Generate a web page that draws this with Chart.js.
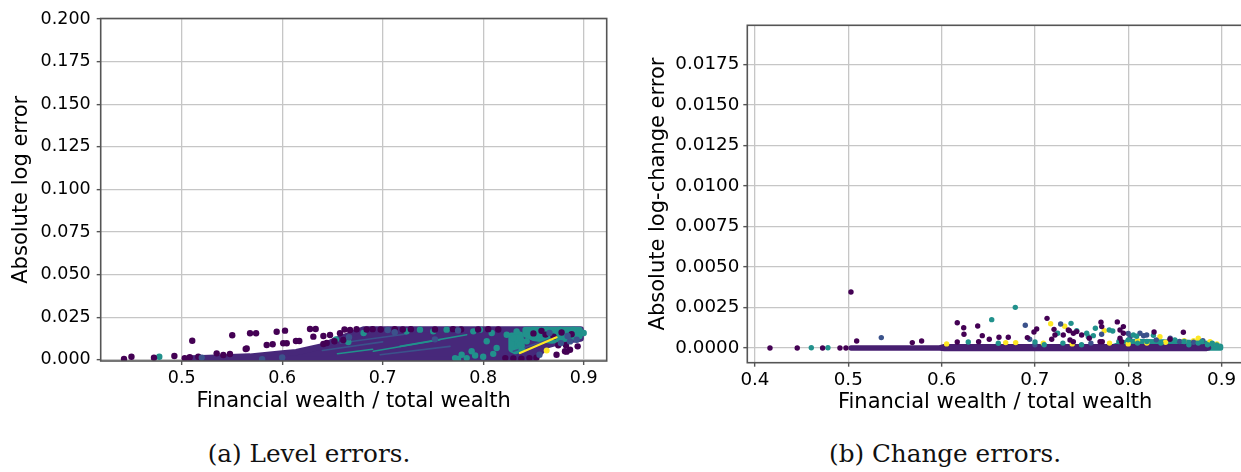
<!DOCTYPE html>
<html>
<head>
<meta charset="utf-8">
<script src="https://cdn.jsdelivr.net/npm/chart.js@4.4.1/dist/chart.umd.min.js"></script>
<style>
html, body { margin:0; padding:0; background:#fff; overflow:hidden; width:1241px; height:472px; }
#levelChart { position:absolute; left:0; top:0; }
#changeChart { position:absolute; left:620px; top:0; }
.cap { position:absolute; top:439px; width:400px; text-align:center; font-family:'DejaVu Serif', serif; font-size:24.7px; color:#111; }
</style>
</head>
<body>
<canvas id="levelChart" width="620" height="420"></canvas>
<canvas id="changeChart" width="640" height="420"></canvas>
<div class="cap" style="left:109px">(a) Level errors.</div>
<div class="cap" style="left:745px">(b) Change errors.</div>
<script>
// DATA

var levelXTicks = [0.5, 0.6, 0.7, 0.8, 0.9];
var levelYTicks = [0, 0.025, 0.05, 0.075, 0.1, 0.125, 0.15, 0.175, 0.2];
var changeXTicks = [0.4, 0.5, 0.6, 0.7, 0.8, 0.9];
var changeYTicks = [0, 0.0025, 0.005, 0.0075, 0.01, 0.0125, 0.015, 0.0175];

// level errors: outline of the dense cloud, then single points
var levelMassOutline = [[0.508,0.0003],[0.60,0.0001],[0.850,0.0002],[0.857,0.0045],[0.863,0.0085],[0.880,0.0112],[0.897,0.0125],
    [0.897,0.0178],[0.681,0.0178],[0.667,0.0146],[0.654,0.0117],[0.641,0.0081],[0.614,0.0045],[0.600,0.0038],[0.568,0.0019],[0.520,0.0010],[0.508,0.0008]];
var levelTealOutlines = [
    [[0.842,0.0176],[0.896,0.0176],[0.896,0.0138],[0.882,0.0124],[0.868,0.0112],[0.850,0.0128],[0.842,0.0148]],
    [[0.828,0.0142],[0.837,0.0148],[0.839,0.0062],[0.832,0.0050],[0.828,0.0062]]
];
var levelTealStreaks = [[[0.6907,0.0050],[0.757,0.0118]], [[0.7173,0.0079],[0.7836,0.0147]], [[0.655,0.0036],[0.690,0.0062]]];
var levelBlueStreaks = [[[0.6577,0.0099],[0.7238,0.0151]], [[0.6975,0.0030],[0.767,0.0079]], [[0.830,0.0050],[0.870,0.0128]], [[0.640,0.0055],[0.700,0.0105]]];
var levelYellowStreaks = [[[0.8366,0.0040],[0.873,0.0132]]];

var levelPurplePts = [[0.4426,0.0005],[0.450,0.0018],[0.4724,0.0012],[0.4927,0.0022],[0.503,0.0009],[0.508,0.0015],[0.5105,0.0112],
    [0.5165,0.0018],[0.5198,0.0009],[0.5348,0.0038],[0.5414,0.0028],[0.548,0.0034],[0.5503,0.0144],[0.5637,0.0063],[0.5647,0.0067],
    [0.568,0.0156],[0.574,0.0156],[0.5846,0.0087],[0.5905,0.0091],[0.5945,0.0165],[0.601,0.0097],[0.6028,0.0171],[0.6045,0.0097],
    [0.6137,0.011],[0.617,0.011],[0.6277,0.0181],[0.6333,0.0181],[0.631,0.0136],[0.641,0.014],[0.6476,0.0146],[0.6575,0.0156],
    [0.6675,0.0175],[0.674,0.0179],[0.641,0.0093],[0.6443,0.0099],[0.652,0.0109],[0.6608,0.0116],
    [0.662,0.0178],[0.684,0.0178],[0.690,0.0180],[0.698,0.0178],[0.712,0.0180],[0.720,0.0178],[0.728,0.0180],
    [0.752,0.0178],[0.770,0.0180],[0.778,0.0178],[0.795,0.0178],[0.805,0.0180],[0.815,0.0178],
    [0.822,0.0010],[0.830,0.0008],[0.838,0.0006],[0.846,0.0010],[0.853,0.0012],
    [0.873,0.0030],[0.8814,0.0050],[0.8864,0.0059],[0.894,0.0079],[0.8747,0.0085],[0.8824,0.0085],[0.883,0.0048],
    [0.850,0.0155],[0.862,0.0148],[0.878,0.0160],[0.888,0.0150],[0.870,0.0135],[0.858,0.0170]];
var levelBluePts = [[0.6665,0.0132],[0.712,0.0162],[0.856,0.0030],[0.8864,0.0108],[0.893,0.0118],[0.8773,0.0098],[0.520,0.0012],
    [0.580,0.0004],[0.752,0.0120],[0.600,0.0014],[0.705,0.0175],[0.775,0.0172],[0.866,0.0158],[0.884,0.0140]];
var levelTealPts = [[0.4777,0.0018],[0.6535,0.012],[0.6658,0.0104],[0.681,0.0157],[0.7238,0.0167],[0.7371,0.0177],[0.7503,0.0167],
    [0.7636,0.0177],[0.772,0.0010],[0.7786,0.0030],[0.7885,0.0050],[0.7836,0.0010],[0.7902,0.0167],[0.7968,0.0177],[0.8035,0.0109],
    [0.8085,0.0157],[0.8134,0.0069],[0.8234,0.0147],[0.830,0.0128],[0.8333,0.0167],[0.8366,0.0089],[0.8383,0.0059],[0.8433,0.0109],
    [0.8499,0.0177],[0.8565,0.0167],[0.8632,0.0177],[0.8698,0.0157],[0.8764,0.0177],[0.8831,0.0167],[0.8897,0.0177],[0.8963,0.0167],
    [0.900,0.0157],[0.855,0.0142],[0.875,0.0146],[0.895,0.0142],[0.800,0.0018],[0.792,0.0025],[0.775,0.0005],[0.810,0.0035]];
var levelYellowPts = [[0.8632,0.0055]];

// change errors
var changeBandOutline = [[0.503,0],[0.598,0],[0.603,0.00008],[0.884,0.00008],[0.886,0],[0.884,-0.00003],[0.603,-0.00003],[0.598,0]];
var changeTealOutline = [[0.785,0.0001],[0.800,0.0004],[0.860,0.00035],[0.885,0.00028],[0.899,0.0001],[0.899,0],[0.785,0]];
var changePurplePts = [[0.4161,0],[0.4453,0],[0.4725,0],[0.4911,0],[0.4975,0],[0.5029,0.00346],[0.509,0.00043],[0.5686,0.00033],
    [0.5786,0.00043],[0.6168,0.00156],[0.6237,0.00125],[0.624,0.00085],[0.6168,0.00037],[0.6387,0.00136],[0.6397,0.00039],
    [0.6436,0.00076],[0.6511,0.00054],[0.6615,0.00066],[0.6715,0.00066],[0.6919,0.00064],[0.699,0.00099],[0.7019,0.00117],
    [0.713,0.00183],[0.7205,0.00115],[0.718,0.00054],[0.7215,0.0008],[0.7304,0.0008],[0.7369,0.00107],[0.7412,0.00091],
    [0.7448,0.00101],[0.7412,0.00039],[0.7501,0.0008],[0.7583,0.0006],[0.7708,0.00159],[0.7716,0.00132],[0.7722,0.00039],
    [0.7698,0.00039],[0.7883,0.00161],[0.7912,0.00111],[0.7948,0.00132],[0.7948,0.00091],[0.7912,0.0006],[0.793,0.00039],
    [0.8277,0.00099],[0.8448,0.00054],[0.8591,0.00097],[0.7376,0.00049],[0.7358,0.00111]];
var changeBluePts = [[0.5354,0.00064],[0.6897,0.0014],[0.6944,0.00054],[0.7276,0.00148],[0.7715,0.00085],[0.8126,0.00091],
    [0.8198,0.0008],[0.802,0.0007],[0.8165,0.00075],[0.845,0.0006],[0.855,0.0004],[0.87,0.00035],[0.76,0.0003],[0.70,0.0002],
    [0.80,0.0009],[0.83,0.0005],[0.88,0.00045]];
var changeTealPts = [[0.4604,0.00001],[0.4782,0.00001],[0.6286,0.00037],[0.6537,0.00175],[0.6608,0.00029],[0.679,0.00251],
    [0.7001,0.00037],[0.7244,0.00091],[0.7387,0.00152],[0.7448,0.00107],[0.7555,0.00091],[0.7572,0.0007],[0.7626,0.00076],
    [0.7648,0.00122],[0.7797,0.00111],[0.7834,0.00105],[0.8055,0.0008],[0.809,0.00072],[0.827,0.00078],[0.8788,0.00039],
    [0.8948,0.00019],[0.8984,0.00008],[0.79,0.0004],[0.80,0.0005],[0.81,0.0003],[0.82,0.0004],[0.835,0.0003],[0.85,0.0005],
    [0.86,0.0004],[0.865,0.0002],[0.875,0.0003],[0.885,0.0002],[0.89,0.0003],[0.75,0.0002],[0.73,0.0003],[0.71,0.0002]];
var changeYellowPts = [[0.6054,0.00025],[0.6687,0.00033],[0.6794,0.00033],[0.709,0.00029],[0.7169,0.0015],[0.7319,0.00134],
    [0.7744,0.00107],[0.834,0.0007],[0.8751,0.0006],[0.8877,0.00039],[0.74,0.00025],[0.78,0.0003],[0.81,0.00045],[0.84,0.00035],
    [0.86,0.00045],[0.87,0.00045],[0.895,0.00025],[0.80,0.00025],[0.82,0.0003]];

// END DATA

var PURPLE = '#440154', BLUE = '#3b528b', TEAL = '#21918c', YELLOW = '#fde725';

function xy(arr){
    return arr.map(function(p){ return {x: p[0], y: p[1]}; });
}

function dots(arr, color, r){
    return { type: 'scatter', data: xy(arr), backgroundColor: color, borderWidth: 0, pointRadius: r, pointHoverRadius: r };
}

function shape(arr, color, w){
    return { type: 'line', data: xy(arr.concat([arr[0]])), backgroundColor: color, borderColor: color, borderWidth: w,
        fill: 'shape', pointRadius: 0, tension: 0, borderJoinStyle: 'round', borderCapStyle: 'round' };
}

function streak(arr, color, w){
    return { type: 'line', data: xy(arr), borderColor: color, borderWidth: w, fill: false, pointRadius: 0, tension: 0,
        borderCapStyle: 'round' };
}

var framePlugin = {
    id: 'frame',
    afterDatasetsDraw: function(chart){
        var a = chart.chartArea, ctx = chart.ctx;
        ctx.save();
        ctx.strokeStyle = '#555';
        ctx.lineWidth = 1.6;
        ctx.strokeRect(a.left, a.top, a.right - a.left, a.bottom - a.top);
        ctx.restore();
    }
};

function axes(o){
    return {
        x: {
            type: 'linear', min: o.xmin, max: o.xmax,
            afterBuildTicks: function(s){ s.ticks = o.xticks.map(function(v){ return {value: v}; }); },
            afterFit: function(s){ s.height = o.xh; },
            ticks: { font: {family: 'DejaVu Sans', size: o.tick}, color: '#000', padding: 3, maxRotation: 0, autoSkip: false,
                callback: function(v){ return v.toFixed(1); } },
            grid: { color: '#c6c6c6', lineWidth: 1.3, tickLength: 4, tickColor: '#555', tickWidth: 1.4 },
            border: { display: false },
            title: { display: true, text: 'Financial wealth / total wealth', color: '#000',
                font: {family: 'DejaVu Sans', size: 21}, padding: {top: 0, bottom: o.xtpad} }
        },
        y: {
            type: 'linear', min: o.ymin, max: o.ymax,
            afterBuildTicks: function(s){ s.ticks = o.yticks.map(function(v){ return {value: v}; }); },
            afterFit: function(s){ s.width = o.yw; },
            ticks: { font: {family: 'DejaVu Sans', size: o.tick}, color: '#000', padding: o.ypad,
                callback: function(v){ return v.toFixed(o.ydec); } },
            grid: { color: '#c6c6c6', lineWidth: 1.3, tickLength: 4, tickColor: '#555', tickWidth: 1.4 },
            border: { display: false },
            title: { display: true, text: o.ytitle, color: '#000',
                font: {family: 'DejaVu Sans', size: 21}, padding: {top: o.ytpad, bottom: 0} }
        }
    };
}

function commonOptions(o){
    return {
        responsive: false,
        animation: false,
        devicePixelRatio: 1,
        layout: { padding: o.pad },
        plugins: { legend: { display: false }, tooltip: { enabled: false } },
        scales: axes(o)
    };
}

// level errors
var levelSets = [];
levelYellowStreaks.forEach(function(s){ levelSets.push(streak(s, YELLOW, 2.2)); });
levelSets.push(dots(levelYellowPts, YELLOW, 3.0));
levelSets.push(dots(levelBluePts, BLUE, 3.2));
levelSets.push(dots(levelPurplePts, PURPLE, 3.2));
levelSets.push(dots(levelTealPts, TEAL, 3.2));
levelTealStreaks.forEach(function(s){ levelSets.push(streak(s, TEAL, 1.6)); });
levelBlueStreaks.forEach(function(s){ levelSets.push(streak(s, BLUE, 1.6)); });
levelTealOutlines.forEach(function(s){ levelSets.push(shape(s, TEAL, 6.0)); });
levelSets.push(shape(levelMassOutline, '#47287a', 6.4));

new Chart(document.getElementById('levelChart').getContext('2d'), {
    type: 'scatter',
    data: { datasets: levelSets },
    options: commonOptions({
        xmin: 0.4194, xmax: 0.9229, ymin: -0.0007, ymax: 0.2003,
        xticks: levelXTicks, yticks: levelYTicks, ydec: 3,
        xh: 59, yw: 100.7, tick: 17.5, ypad: 6, xtpad: 5.4, ytpad: 9.4,
        ytitle: 'Absolute log error',
        pad: {left: 0, top: 18.5, right: 13.3, bottom: 0}
    }),
    plugins: [framePlugin]
});

// change errors
var changeSets = [];
changeSets.push(dots(changePurplePts, PURPLE, 2.7));
changeSets.push(dots(changeTealPts, TEAL, 2.7));
changeSets.push(dots(changeBluePts, BLUE, 2.7));
changeSets.push(dots(changeYellowPts, YELLOW, 2.7));
changeSets.push(shape(changeBandOutline, '#471f70', 5.4));
changeSets.push(shape(changeTealOutline, TEAL, 5.4));

new Chart(document.getElementById('changeChart').getContext('2d'), {
    type: 'scatter',
    data: { datasets: changeSets },
    options: commonOptions({
        xmin: 0.3918, xmax: 0.923, ymin: -0.00091, ymax: 0.01993,
        xticks: changeXTicks, yticks: changeYTicks, ydec: 4,
        xh: 57.3, yw: 127.3, tick: 18.3, ypad: 4, xtpad: 4.7, ytpad: 26.4,
        ytitle: 'Absolute log-change error',
        pad: {left: 0, top: 25.3, right: 17, bottom: 0}
    }),
    plugins: [framePlugin]
});
</script>
</body>
</html>
